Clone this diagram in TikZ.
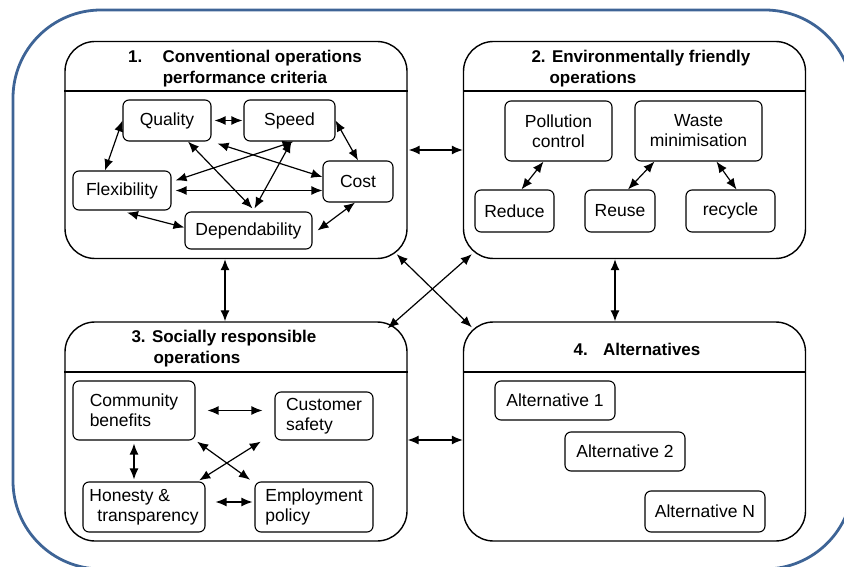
\documentclass[tikz,border=0pt]{standalone}
\usepackage{fontspec}
\setmainfont{Liberation Sans}
\usetikzlibrary{arrows.meta}
\definecolor{frameblue}{RGB}{62,100,150}

\begin{document}
\begin{tikzpicture}[x=1pt,y=-1pt,font=\fontsize{17.5}{20}\selectfont,
    base/.style={draw,rounded corners=6pt,line width=1.1pt,inner sep=1pt,align=center},
    panel/.style={draw,rounded corners=30pt,line width=1.4pt,minimum width=342pt,minimum height=217pt},
    head/.style={font=\fontsize{17}{21}\selectfont\bfseries,align=center},
    link/.style={{Latex[length=11pt,width=9pt]}-{Latex[length=11pt,width=9pt]},line width=1.2pt}]

    \useasboundingbox (0,0) rectangle (844,567);
    \clip (0,0) rectangle (844,567);
    \draw[frameblue,line width=2.8pt,rounded corners=88pt] (13,10) rectangle (853,569);

    % the four panels
    \node[panel] (p1) at (236,150) {};
    \node[panel] (p2) at (634.5,150) {};
    \node[panel,minimum height=219pt] (p3) at (236,431.5) {};
    \node[panel,minimum height=219pt] (p4) at (634.5,431.5) {};
    \draw[line width=1.6pt] (p1.west |- 0,91) -- (p1.east |- 0,91);
    \draw[line width=1.6pt] (p2.west |- 0,91) -- (p2.east |- 0,91);
    \draw[line width=1.6pt] (p3.west |- 0,372) -- (p3.east |- 0,372);
    \draw[line width=1.6pt] (p4.west |- 0,372) -- (p4.east |- 0,372);

    \node[head] (t1) at (245,69) {1.\hspace{14pt} Conventional operations\\performance criteria};
    \node[head,align=left,anchor=west] (t2) at (528,69) {2. Environmentally friendly\\\hspace*{18pt}operations};
    \node[head,align=left,anchor=west] (t3) at (128,349) {3. Socially responsible\\\hspace*{22pt}operations};
    \node[head] (t4) at (637,349) {4.\hspace{9pt} Alternatives};

    % panel 1
    \node[base,minimum width=88pt,minimum height=41pt] (quality) at (167,120.5) {Quality};
    \node[base,minimum width=91pt,minimum height=41pt] (speed) at (289.5,120.5) {Speed};
    \node[base,minimum width=98pt,minimum height=39pt] (flex) at (122,190.5) {Flexibility};
    \node[base,minimum width=70pt,minimum height=41pt] (cost) at (358,181.5) {Cost};
    \node[base,minimum width=127pt,minimum height=37pt] (depend) at (248.5,230.5) {Dependability};

    % panel 2
    \node[base,minimum width=107pt,minimum height=60pt] (pollution) at (558.5,131) {Pollution\\control};
    \node[base,minimum width=127pt,minimum height=60pt] (waste) at (698.5,131) {Waste\\minimisation};
    \node[base,minimum width=79pt,minimum height=42pt] (reduce) at (514.5,211) {Reduce};
    \node[base,minimum width=70pt,minimum height=42pt] (reuse) at (620,211) {Reuse};
    \node[base,minimum width=89pt,minimum height=42pt] (recycle) at (730.5,211) {recycle};

    % panel 3
    \node[base,align=left,minimum width=122pt,minimum height=59pt] (community) at (134,410.5) {Community\\benefits};
    \node[base,align=left,minimum width=98pt,minimum height=48pt] (customer) at (324,416) {Customer\\safety};
    \node[base,align=left,minimum width=122pt,minimum height=50pt] (honesty) at (144,507) {Honesty \&\\\hspace*{8pt}transparency};
    \node[base,align=left,minimum width=118pt,minimum height=50pt] (employ) at (314,507) {Employment\\policy};

    % panel 4
    \node[base,minimum width=120pt,minimum height=39pt] (alt1) at (555,400.5) {Alternative 1};
    \node[base,minimum width=120pt,minimum height=39pt] (alt2) at (625,451.5) {Alternative 2};
    \node[base,minimum width=120pt,minimum height=41pt] (altN) at (705,511.5) {Alternative N};

    \path[link]
    {
        (quality.east) edge[shorten <=3pt,shorten >=1pt] (speed.west)
        (quality.west) edge ([xshift=-17pt]flex.north)
        (speed.east) edge (cost.north)
        ([xshift=21pt]quality.south) edge ([xshift=4pt,yshift=3pt]depend.north)
        ([xshift=6pt,yshift=-2pt]quality.south east) edge ([yshift=4.5pt]cost.west)
        ([xshift=4pt]speed.south) edge ([xshift=4pt,yshift=10pt]flex.east)
        ([xshift=2pt]speed.south) edge ([xshift=6pt,yshift=3pt]depend.north)
        ([xshift=4pt]flex.east) edge (flex.east -| cost.west)
        ([xshift=5pt,yshift=-2pt]flex.south) edge ([yshift=3pt]depend.west)
        ([xshift=-3pt]cost.south) edge ([xshift=5pt]depend.east)

        ([xshift=-15pt]pollution.south) edge ([xshift=7pt]reduce.north)
        ([xshift=-44pt]waste.south) edge ([xshift=8pt]reuse.north)
        ([xshift=18pt]waste.south) edge ([xshift=6pt]recycle.north)

        (community.east) edge[shorten <=12pt,shorten >=12pt] (community.east -| customer.west)
        (community.south) edge[shorten <=3pt,shorten >=2pt] (community.south |- honesty.north)
        (community.south east) edge[shorten <=2pt,shorten >=3pt] ([xshift=-2pt]employ.north west)
        ([xshift=-12pt]customer.south west) edge[shorten <=2pt,shorten >=2pt] ([xshift=-8pt]honesty.north east)
        ([yshift=5pt]honesty.east) edge[shorten <=10pt,shorten >=2pt] ([yshift=5pt]employ.west)

        (p1.east) edge[shorten <=1pt] (p2.west)
        ([xshift=-11pt]p1.south) edge ([xshift=-11pt]p3.north)
        ([xshift=-19.5pt]p2.south) edge ([xshift=-19.5pt]p4.north)
        ([yshift=-8.5pt]p3.east) edge ([yshift=-8.5pt]p4.west)
        ([xshift=-11pt,yshift=5pt]p1.south east) edge ([xshift=9pt,yshift=-6pt]p4.north west)
        ([xshift=9pt,yshift=5pt]p2.south west) edge ([xshift=-20pt,yshift=-7pt]p3.north east)
    };
\end{tikzpicture}
\end{document}
